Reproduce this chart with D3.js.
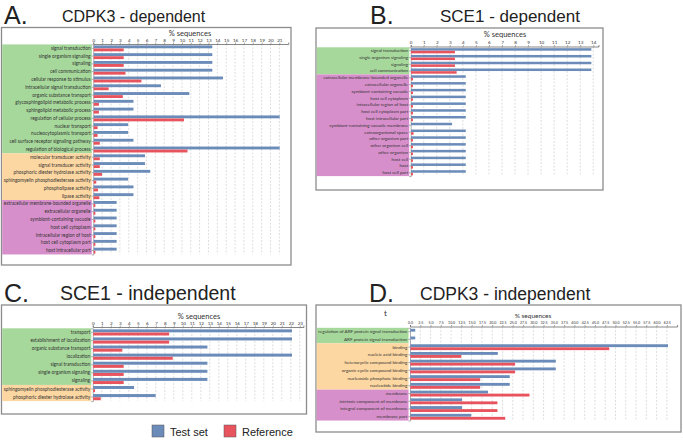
<!DOCTYPE html>
<html><head><meta charset="utf-8">
<script src="https://cdn.jsdelivr.net/npm/d3@7"></script>
<style>body{margin:0;background:#fff}</style></head>
<body><svg id="c" width="683" height="440"></svg>
<script>
// ---- Panel A: CDPK3 - dependent
const aCategories = ["signal transduction","single organism signaling","signaling","cell communication","cellular response to stimulus","intracellular signal transduction","organic substance transport","glycosphingolipid metabolic process","sphingolipid metabolic process","regulation of cellular process","nuclear transport","nucleocytoplasmic transport","cell surface receptor signaling pathway","regulation of biological process","molecular transducer activity","signal transducer activity","phosphoric diester hydrolase activity","sphingomyelin phosphodiesterase activity","phospholipase activity","lipase activity","extracellular membrane-bounded organelle","extracellular organelle","symbiont-containing vacuole","host cell cytoplasm","intracellular region of host","host cell cytoplasm part","host intracellular part"];
const aTest = [13.4,13.4,13.4,13.4,14.6,7.6,10.8,4.5,4.5,21.0,3.9,3.9,4.5,21.0,5.8,5.8,6.4,3.9,4.5,4.5,2.6,2.6,2.6,2.6,2.6,2.6,2.6];
const aRef  = [3.4,3.4,3.4,3.6,5.4,1.7,3.3,0.6,0.6,10.2,0.45,0.45,0.7,10.6,0.7,0.7,0.95,0.3,0.5,0.65,0.2,0.2,0.2,0.2,0.2,0.2,0.2];
const aGroups = [14,6,7];
const aTicks = [0,1,2,3,4,5,6,7,8,9,10,11,12,13,14,15,16,17,18,19,20,21];

// ---- Panel B: SCE1 - dependent
const bCategories = ["signal transduction","single organism signaling","signaling","cell communication","extracellular membrane-bounded organelle","extracellular organelle","symbiont-containing vacuole","host cell cytoplasm","intracellular region of host","host cell cytoplasm part","host intracellular part","symbiont-containing vacuole membrane","extraorganismal space","other organism part","other organism cell","other organism","host cell","host","host cell part"];
const bTest = [13.83,13.83,13.83,13.83,4.2,4.2,4.2,4.2,4.2,4.2,4.2,3.15,4.2,4.2,4.2,4.2,4.2,4.2,4.2];
const bRef  = [3.37,3.37,3.37,3.5,0.15,0.15,0.15,0.15,0.15,0.15,0.15,0,0.2,0.15,0.15,0.15,0.15,0.15,0.15];
const bGroups = [4,0,15];
const bTicks = [0,1,2,3,4,5,6,7,8,9,10,11,12,13,14];

// ---- Panel C: SCE1 - independent
const cCategories = ["transport","establishment of localization","organic substance transport","localization","signal transduction","single organism signaling","signaling","sphingomyelin phosphodiesterase activity","phosphoric diester hydrolase activity"];
const cTest = [22.1,22.1,12.7,22.1,12.7,12.7,12.7,4.55,6.95];
const cRef  = [8.45,8.45,3.25,8.85,3.4,3.4,3.4,0.22,0.85];
const cGroups = [7,2,0];
const cTicks = [0,1,2,3,4,5,6,7,8,9,10,11,12,13,14,15,16,17,18,19,20,21,22,23];

// ---- Panel D: CDPK3 - independent
const dCategories = ["regulation of ARF protein signal transduction","ARF protein signal transduction","binding","nucleic acid binding","heterocyclic compound binding","organic cyclic compound binding","nucleoside phosphate binding","nucleotide binding","membrane","intrinsic component of membrane","integral component of membrane","membrane part"];
const dTest = [1.2,1.2,62.7,21.3,35.4,35.4,24.2,24.2,18.9,12.6,12.6,14.8];
const dRef  = [0,0,48.4,12.4,25.5,25.5,17.0,17.0,29.0,21.2,21.2,23.1];
const dGroups = [2,6,4];
const dTicks = [0,2.5,5,7.5,10,12.5,15,17.5,20,22.5,25,27.5,30,32.5,35,37.5,40,42.5,45,47.5,50,52.5,55,57.5,60,62.5];

const legendLabels = ["Test set","Reference"];

const BLUE = "#6b8cb9", RED = "#e8545e";
const GROUPCOL = ["#a6d89b","#fdd7a2","#d78fcb"];
const svg = d3.select("#c");
const SMALL = "Lato, 'Open Sans', sans-serif";

function fit(sel, maxW){
  sel.each(function(){
    const w = this.getComputedTextLength();
    if (w > maxW) { d3.select(this).attr("textLength", maxW).attr("lengthAdjust","spacingAndGlyphs"); }
  });
}

function panel(o){
  const g = svg.append("g");
  const [bx,by,bw,bh] = o.box;
  g.append("rect").attr("x",bx).attr("y",by).attr("width",bw).attr("height",bh)
    .attr("fill","#fff").attr("stroke","#8c8c8c").attr("stroke-width",1.3);
  const x = d3.scaleLinear().domain([0,o.dMax]).range([o.x0, o.x0 + o.dMax*o.unit]);
  const y = d3.scaleBand().domain(o.cats).range([o.rowTop, o.rowTop + o.cats.length*o.pitch]);
  const bottom = o.rowTop + o.cats.length*o.pitch;
  let start = 0;
  o.groups.forEach((n,i)=>{
    if(n>0){
      g.append("rect").attr("x",bx+0.7).attr("y",y(o.cats[start]))
        .attr("width",o.x0 - bx - 2.2).attr("height",n*o.pitch).attr("fill",GROUPCOL[i]);
    }
    start += n;
  });
  g.selectAll(".grid").data(o.ticks.slice(1)).join("line")
    .attr("x1",d=>x(d)).attr("x2",d=>x(d)).attr("y1",o.axisY).attr("y2",bottom)
    .attr("stroke","#c8c8c8").attr("stroke-width",0.6).attr("stroke-dasharray","2,1.5");
  const ax = g.append("g").attr("transform",`translate(0,${o.axisY})`)
    .call(d3.axisTop(x).tickValues(o.ticks).tickSize(1.5).tickPadding(1).tickFormat(o.fmt));
  ax.select(".domain").attr("stroke","#555").attr("stroke-width",0.7);
  ax.selectAll(".tick line").attr("stroke","#555").attr("stroke-width",0.5);
  ax.selectAll("text").attr("font-size",o.tickSize||4.6).attr("font-family",SMALL).attr("fill","#333");
  const ay = g.append("g").attr("transform",`translate(${o.x0},0)`)
    .call(d3.axisLeft(y).tickSize(1.5).tickPadding(1.2));
  ay.select(".domain").attr("stroke","#777").attr("stroke-width",0.6);
  ay.selectAll(".tick line").attr("stroke","#555").attr("stroke-width",0.5);
  ay.selectAll("text").attr("font-size",o.labSize||4.8).attr("font-family",SMALL).attr("fill","#333");
  fit(ay.selectAll("text"), o.x0 - bx - 5);
  const bh1 = o.pitch*0.37;
  g.selectAll(".bt").data(o.cats).join("rect")
    .attr("x",x(0)+0.3).attr("y",d=>y(d)+o.pitch*0.13)
    .attr("width",(d,i)=>Math.max(0,x(o.test[i])-x(0))).attr("height",bh1).attr("fill",BLUE);
  g.selectAll(".br").data(o.cats).join("rect")
    .attr("x",x(0)+0.3).attr("y",d=>y(d)+o.pitch*0.52)
    .attr("width",(d,i)=>Math.max(0,x(o.ref[i])-x(0))).attr("height",bh1).attr("fill",RED);
  g.append("text").attr("x",o.pctX).attr("y",o.pctY).attr("text-anchor","middle")
    .attr("font-size",o.pctSize||7.5).attr("font-family",SMALL).attr("fill","#333").text("% sequences");
  svg.append("text").attr("x",o.letterX).attr("y",o.titleY).attr("font-size",25)
    .attr("font-family","'Liberation Sans', Arial, sans-serif").attr("fill","#222").text(o.letter);
  svg.append("text").attr("x",o.titleX).attr("y",o.titleY-2).attr("font-size",o.titleSize)
    .attr("font-family","'Liberation Sans', Arial, sans-serif").attr("fill","#222").text(o.title);
}

panel({cats:aCategories,test:aTest,ref:aRef,groups:aGroups,ticks:aTicks,fmt:d3.format("d"),
  box:[1.5,27.5,289.5,237.5],x0:93.3,unit:8.86,dMax:22,rowTop:44.4,pitch:7.78,axisY:44,
  pctX:190,pctY:36,letter:"A.",letterX:4,title:"CDPK3 - dependent",titleX:62,titleY:24,titleSize:16});
panel({cats:bCategories,test:bTest,ref:bRef,groups:bGroups,ticks:bTicks,fmt:d3.format("d"),
  box:[316,28,287,162],x0:410.7,unit:13.04,dMax:14.4,rowTop:47.3,pitch:6.78,axisY:46.5,labSize:4.5,
  pctX:505,pctY:36.5,letter:"B.",letterX:370,title:"SCE1 - dependent",titleX:440,titleY:24,titleSize:17});
panel({cats:cCategories,test:cTest,ref:cRef,groups:cGroups,ticks:cTicks,fmt:d3.format("d"),
  box:[1.5,305,305,109],x0:92.8,unit:9.0,dMax:23.4,rowTop:328.3,pitch:8.09,axisY:327,
  pctX:199,pctY:318.5,letter:"C.",letterX:4,title:"SCE1 - independent",titleX:60,titleY:302,titleSize:19.5});
panel({cats:dCategories,test:dTest,ref:dRef,groups:dGroups,ticks:dTicks,fmt:d3.format(".1f"),tickSize:3.6,
  box:[316,305,365,127],x0:410,unit:4.11,dMax:65,rowTop:327.8,pitch:7.73,axisY:326.5,labSize:4.6,
  pctX:533,pctY:318,pctSize:6.5,letter:"D.",letterX:369,title:"CDPK3 - independent",titleX:420,titleY:302,titleSize:17.5});

svg.append("text").attr("x",384).attr("y",316).attr("font-size",8).attr("font-family",SMALL).attr("fill","#333").text("t");

const lg = svg.append("g");
const lx = [152,224];
legendLabels.forEach((t,i)=>{
  lg.append("rect").attr("x",lx[i]).attr("y",425).attr("width",12).attr("height",12)
    .attr("fill",i?RED:BLUE).attr("stroke","#555").attr("stroke-width",0.5);
  lg.append("text").attr("x",lx[i]+18).attr("y",435.5).attr("font-size",11)
    .attr("font-family","'Liberation Sans', Arial, sans-serif").attr("fill","#222").text(t);
});
</script></body></html>
